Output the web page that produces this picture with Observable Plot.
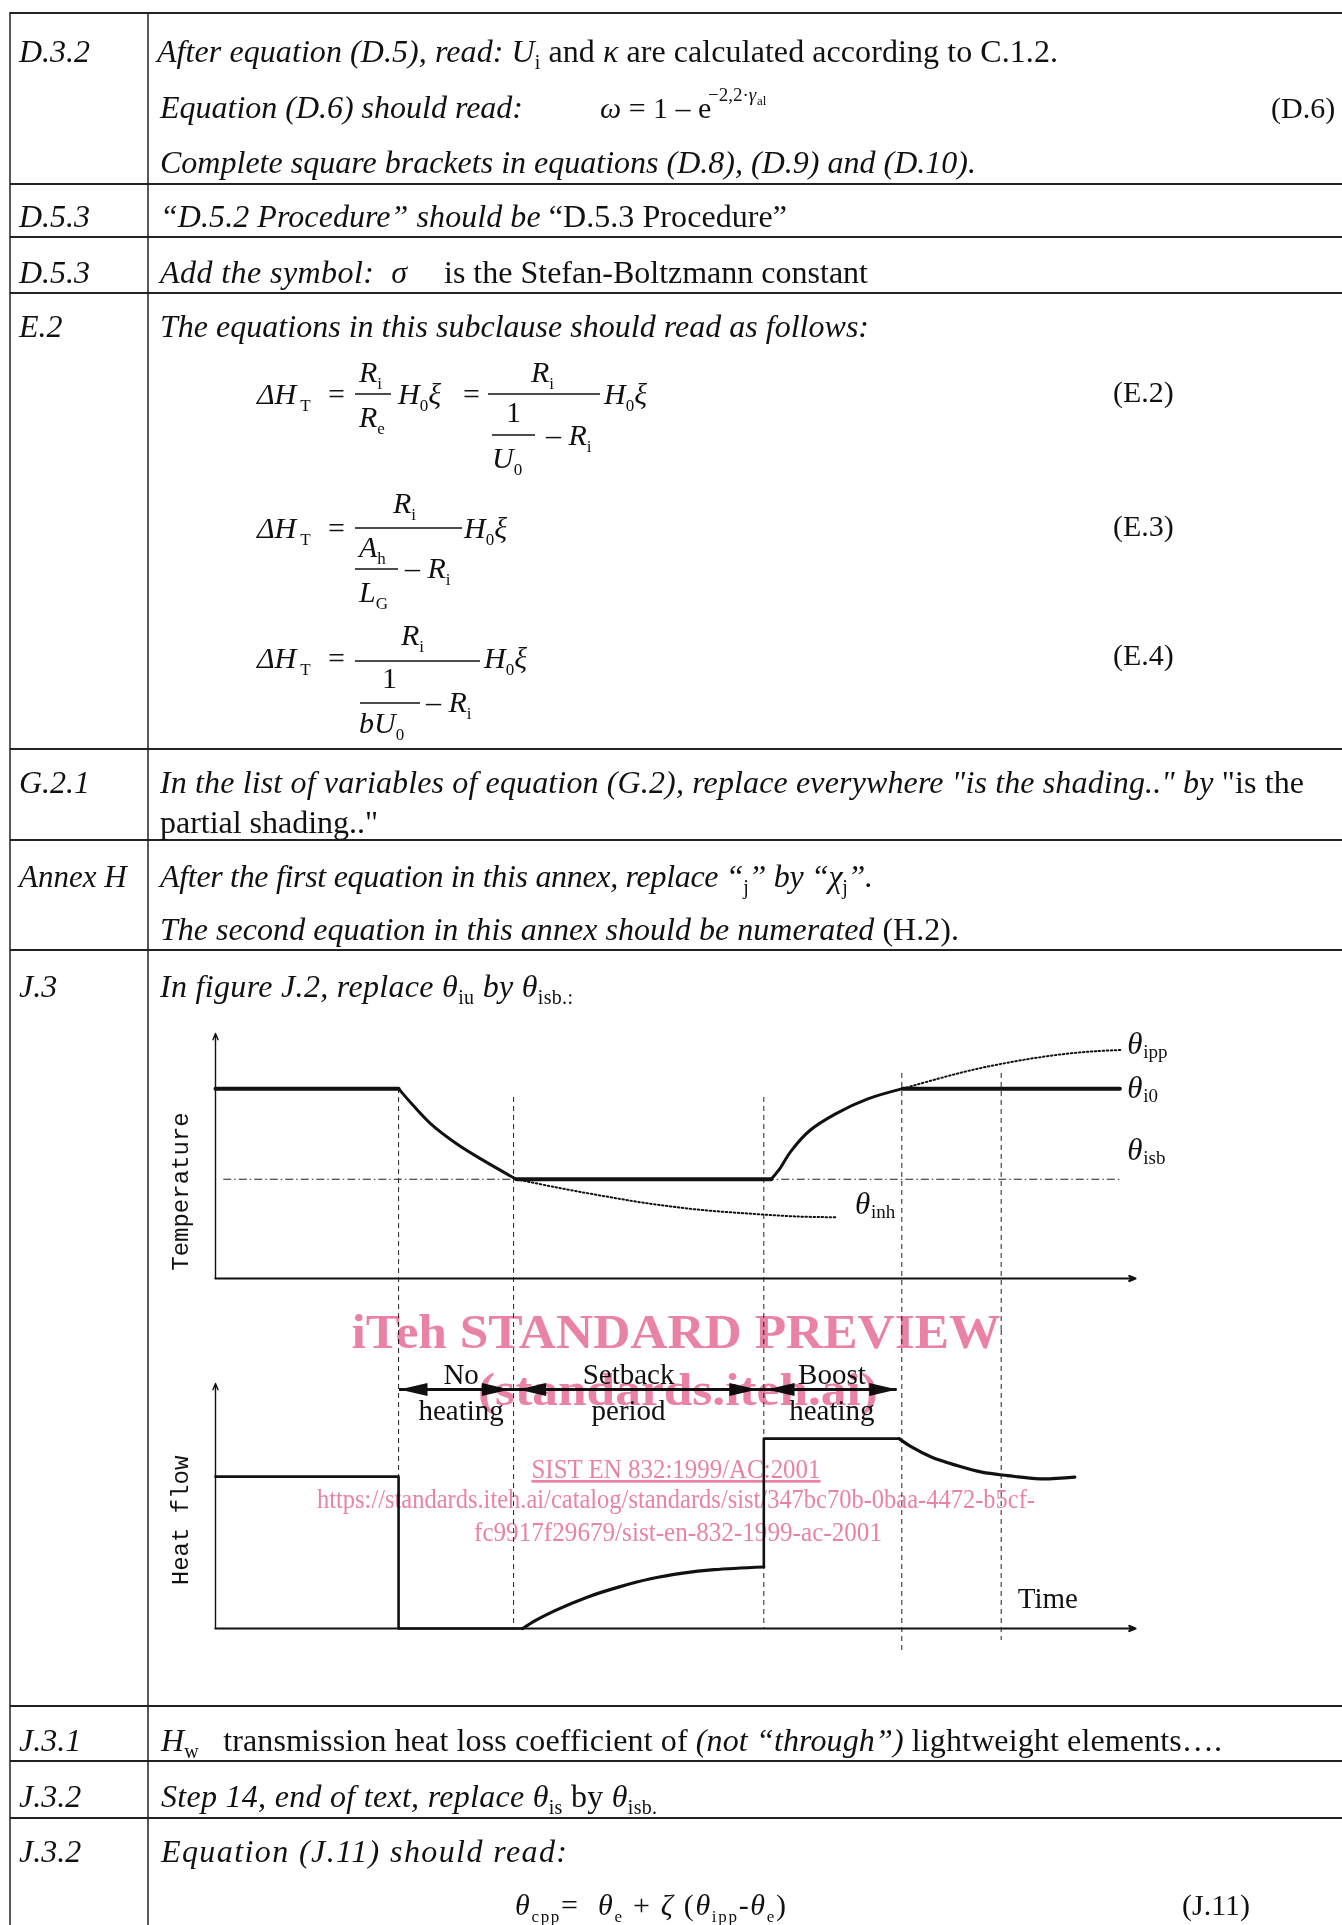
<!DOCTYPE html>
<html><head><meta charset="utf-8">
<script src="https://cdn.jsdelivr.net/npm/d3@7"></script>
<script src="https://cdn.jsdelivr.net/npm/@observablehq/plot@0.6"></script>
<style>
html,body{margin:0;padding:0;background:#fff;}
#page{position:relative;width:1342px;height:1925px;overflow:hidden;background:#fff;}
#doc,#wm{position:absolute;left:0;top:0;}
#wm{mix-blend-mode:multiply;pointer-events:none;}
#temp{position:absolute;left:140px;top:1000px;width:1060px;}
#heat{position:absolute;left:140px;top:1330px;width:1060px;}
text{white-space:pre;}
</style></head><body>
<div id="page">
<svg id="doc" width="1342" height="1925" font-family="Liberation Serif" font-size="32" fill="#111"></svg>
<div id="temp"></div>
<div id="heat"></div>
<svg id="wm" width="1342" height="1925" font-family="Liberation Serif"></svg>
</div>
<script>
// ================= chart data (time units 0..10, level units 0..10) =================
const panels = ["Temperature", "Heat flow"];
const tempFlats = [
  {seg: "before", t: 0, T: 7.75}, {seg: "before", t: 1.99, T: 7.75},
  {seg: "setback", t: 3.27, T: 4.05}, {seg: "setback", t: 6.04, T: 4.05},
  {seg: "after", t: 7.47, T: 7.75}, {seg: "after", t: 9.83, T: 7.75}
];
const tempCurves = [
  {seg: "cool", t: 1.99, T: 7.75}, {seg: "cool", t: 2.14, T: 7.10}, {seg: "cool", t: 2.34, T: 6.31},
  {seg: "cool", t: 2.62, T: 5.50}, {seg: "cool", t: 2.92, T: 4.80}, {seg: "cool", t: 3.27, T: 4.05},
  {seg: "boost", t: 6.04, T: 4.05}, {seg: "boost", t: 6.12, T: 4.41}, {seg: "boost", t: 6.26, T: 5.22},
  {seg: "boost", t: 6.46, T: 6.04}, {seg: "boost", t: 6.74, T: 6.72}, {seg: "boost", t: 7.09, T: 7.33},
  {seg: "boost", t: 7.47, T: 7.75}
];
const tempDotted = [
  {seg: "ipp", t: 7.47, T: 7.75}, {seg: "ipp", t: 7.85, T: 8.15}, {seg: "ipp", t: 8.20, T: 8.49},
  {seg: "ipp", t: 8.54, T: 8.76}, {seg: "ipp", t: 8.89, T: 8.99}, {seg: "ipp", t: 9.24, T: 9.17},
  {seg: "ipp", t: 9.58, T: 9.28}, {seg: "ipp", t: 9.86, T: 9.33},
  {seg: "inh", t: 3.27, T: 4.05}, {seg: "inh", t: 3.69, T: 3.73}, {seg: "inh", t: 4.18, T: 3.39},
  {seg: "inh", t: 4.73, T: 3.05}, {seg: "inh", t: 5.28, T: 2.80}, {seg: "inh", t: 5.84, T: 2.64},
  {seg: "inh", t: 6.33, T: 2.53}, {seg: "inh", t: 6.74, T: 2.50}
];
const setbackRef = [{T: 4.05, t1: 0.09, t2: 9.83}];
const thetaLabels = [
  {t: 9.91, T: 9.18, sub: "ipp"}, {t: 9.91, T: 7.35, sub: "i0"},
  {t: 9.91, T: 4.82, sub: "isb"}, {t: 6.95, T: 2.65, sub: "inh"}
];
const heatSteps = [
  {seg: "a", t: 0, H: 6.2}, {seg: "a", t: 1.99, H: 6.2}, {seg: "a", t: 1.99, H: 0}, {seg: "a", t: 3.34, H: 0},
  {seg: "b", t: 5.96, H: 2.51}, {seg: "b", t: 5.96, H: 7.75}, {seg: "b", t: 7.43, H: 7.75}
];
const heatCurves = [
  {seg: "recovery", t: 3.34, H: 0}, {seg: "recovery", t: 3.48, H: 0.33}, {seg: "recovery", t: 3.69, H: 0.73},
  {seg: "recovery", t: 4.04, H: 1.28}, {seg: "recovery", t: 4.38, H: 1.69}, {seg: "recovery", t: 4.73, H: 2.03},
  {seg: "recovery", t: 5.08, H: 2.26}, {seg: "recovery", t: 5.42, H: 2.40}, {seg: "recovery", t: 5.96, H: 2.51},
  {seg: "decay", t: 7.43, H: 7.75}, {seg: "decay", t: 7.57, H: 7.40}, {seg: "decay", t: 7.78, H: 7.00},
  {seg: "decay", t: 8.06, H: 6.65}, {seg: "decay", t: 8.33, H: 6.38}, {seg: "decay", t: 8.61, H: 6.24},
  {seg: "decay", t: 8.96, H: 6.11}, {seg: "decay", t: 9.34, H: 6.18}
];
const periodSpan = [{H: 9.76, t1: 2.0, t2: 7.41}];
const periodHeads = [
  {t: 2.00, H: 9.76, dir: 180}, {t: 3.20, H: 9.76, dir: 0},
  {t: 3.29, H: 9.76, dir: 180}, {t: 5.89, H: 9.76, dir: 0},
  {t: 5.99, H: 9.76, dir: 180}, {t: 7.41, H: 9.76, dir: 0}
];
const periodLabels = [
  {t: 2.67, line1: "No", line2: "heating", h1: 10.0, h2: 8.49},
  {t: 4.49, line1: "Setback", line2: "period", h1: 10.0, h2: 8.49},
  {t: 6.70, line1: "Boost", line2: "heating", h1: 10.0, h2: 8.49}
];
const timeLabel = [{t: 8.72, H: 0.82, text: "Time"}];
const panelLabels = [{panel: "Temperature", at: 3.55}, {panel: "Heat flow", at: 4.41}];
const dashLines = [
  {t: 1.99, top: 7.75, bottom: 6.2}, {t: 3.24, top: 7.39, bottom: 0},
  {t: 5.96, top: 7.39, bottom: 0}, {t: 7.46, top: 8.37, bottom: -0.98},
  {t: 8.54, top: 8.37, bottom: -0.49}
];
const axesArrows = [{x1: 0, y1: 0, x2: 0, y2: 10, w: 1.4}, {x1: 0, y1: 0, x2: 10, y2: 0, w: 2.2}];

// ================= chart =================
const W = 1060, mL = 75, mR = 65;
const tMargins = {top: 33, bottom: 52}, hMargins = {top: 53, bottom: 50};
const bandPx = 245;
const gapT = -tMargins.bottom / (bandPx / 10);       // bottom edge of the temperature svg, in level units
const gapH = 10 + hMargins.top / (bandPx / 10);      // top edge of the heat-flow svg, in level units
const headSymbol = {draw(ctx) { ctx.moveTo(0, 0); ctx.lineTo(-28, -6.5); ctx.lineTo(-28, 6.5); ctx.closePath(); }};
const common = {
  width: W, marginLeft: mL, marginRight: mR,
  x: {domain: [0, 10], axis: null}, y: {domain: [0, 10], axis: null},
  style: {background: "transparent", fontFamily: "Liberation Serif", overflow: "visible", color: "#111"}
};
const panelLabelMark = p => Plot.text(panelLabels.filter(d => d.panel === p), {
  y: "at", text: "panel", frameAnchor: "left", dx: -35, rotate: -90, textAnchor: "middle",
  fontFamily: "Liberation Mono", fontSize: 24, letterSpacing: 0.4
});

const tempPlot = Plot.plot({
  ...common, height: tMargins.top + bandPx + tMargins.bottom, marginTop: tMargins.top, marginBottom: tMargins.bottom,
  marks: [
    Plot.ruleY(setbackRef, {y: "T", x1: "t1", x2: "t2", stroke: "#222", strokeWidth: 1.1, strokeDasharray: "8,3,1.5,3"}),
    Plot.ruleX(dashLines, {x: "t", y1: "top", y2: gapT, stroke: "#222", strokeWidth: 1, strokeDasharray: "5,4"}),
    Plot.arrow(axesArrows, {x1: "x1", y1: "y1", x2: "x2", y2: "y2", strokeWidth: "w", headLength: 10, headAngle: 45, stroke: "#111"}),
    Plot.line(tempFlats, {x: "t", y: "T", z: "seg", strokeWidth: 4, stroke: "#111"}),
    Plot.line(tempCurves, {x: "t", y: "T", z: "seg", curve: "catmull-rom", strokeWidth: 3, stroke: "#111"}),
    Plot.line(tempDotted, {x: "t", y: "T", z: "seg", curve: "catmull-rom", strokeWidth: 2, strokeDasharray: "1.5,2.5", stroke: "#111"}),
    Plot.text(thetaLabels, {x: "t", y: "T", text: () => "θ", textAnchor: "start", lineAnchor: "bottom", fontStyle: "italic", fontSize: 31}),
    Plot.text(thetaLabels, {x: "t", y: "T", text: "sub", dx: 16, dy: 4, textAnchor: "start", lineAnchor: "bottom", fontSize: 19}),
    panelLabelMark(panels[0])
  ]
});
document.getElementById("temp").append(tempPlot);

const heatPlot = Plot.plot({
  ...common, height: hMargins.top + bandPx + hMargins.bottom, marginTop: hMargins.top, marginBottom: hMargins.bottom,
  marks: [
    Plot.ruleX(dashLines, {x: "t", y1: gapH, y2: "bottom", stroke: "#222", strokeWidth: 1, strokeDasharray: "5,4"}),
    Plot.arrow(axesArrows, {x1: "x1", y1: "y1", x2: "x2", y2: "y2", strokeWidth: "w", headLength: 10, headAngle: 45, stroke: "#111"}),
    Plot.line(heatSteps, {x: "t", y: "H", z: "seg", strokeWidth: 2.6, stroke: "#111"}),
    Plot.line(heatCurves, {x: "t", y: "H", z: "seg", curve: "catmull-rom", strokeWidth: 3.2, stroke: "#111"}),
    Plot.ruleY(periodSpan, {y: "H", x1: "t1", x2: "t2", strokeWidth: 3, stroke: "#111"}),
    Plot.dot(periodHeads, {x: "t", y: "H", rotate: "dir", symbol: headSymbol, fill: "#111", stroke: "none"}),
    Plot.text(periodLabels, {x: "t", y: "h1", text: "line1", lineAnchor: "bottom", fontSize: 29, letterSpacing: 0.5}),
    Plot.text(periodLabels, {x: "t", y: "h2", text: "line2", lineAnchor: "bottom", fontSize: 29, letterSpacing: 0.5}),
    Plot.text(timeLabel, {x: "t", y: "H", text: "text", textAnchor: "start", lineAnchor: "bottom", fontSize: 29}),
    panelLabelMark(panels[1])
  ]
});
document.getElementById("heat").append(heatPlot);

// ================= document text =================
const esc = s => s.replace(/&/g, "&amp;").replace(/</g, "&lt;");
function tx(x, y, segs, o = {}) {
  const size = o.size || 32, sub = o.sub || 20;
  let cur = 0, inner = "";
  for (const [t, f = ""] of segs) {
    const isSub = f.includes("b"), isSup = f.includes("p");
    const target = isSub ? Math.round(size * 0.22) : isSup ? -Math.round(size * 0.4) : 0;
    const dy = target - cur; cur = target;
    inner += `<tspan dy="${dy}" font-size="${isSub || isSup ? sub : size}" font-style="${f.includes("i") ? "italic" : "normal"}">${esc(t)}</tspan>`;
  }
  const extra = (o.w ? ` textLength="${o.w}"` : "") + (o.anchor ? ` text-anchor="${o.anchor}"` : "");
  return `<text x="${x}" y="${y}"${extra}>${inner}</text>`;
}
const EQ = {size: 30, sub: 17};
const eq = (x, y, segs, o = {}) => tx(x, y, segs, {...EQ, ...o});
const bar = (x1, x2, y) => `<line x1="${x1}" x2="${x2}" y1="${y}" y2="${y}" stroke="#111" stroke-width="1.3"/>`;

const rowRules = [13, 184, 237, 293, 749, 840, 950, 1706, 1761, 1818];
const rowLabels = [
  ["D.3.2", 62], ["D.5.3", 227], ["D.5.3", 283], ["E.2", 337], ["G.2.1", 793],
  ["Annex H", 887], ["J.3", 997], ["J.3.1", 1751], ["J.3.2", 1807], ["J.3.2", 1862]
];
let s = "";
for (const y of rowRules) s += `<line x1="10" x2="1342" y1="${y}" y2="${y}" stroke="#222" stroke-width="2"/>`;
s += `<line x1="10" x2="10" y1="12" y2="1925" stroke="#222" stroke-width="1.5"/>`;
s += `<line x1="148" x2="148" y1="12" y2="1925" stroke="#222" stroke-width="1.5"/>`;
for (const [t, y] of rowLabels) s += tx(19, y, [[t, "i"]], {size: t === "Annex H" ? 31 : 32});

// D.3.2
s += tx(157, 62, [["After equation (D.5), read: ", "i"], ["U", "i"], ["i", "b"], [" and ", ""], ["κ", "i"], [" are calculated according to C.1.2.", ""]], {w: 901});
s += tx(160, 118, [["Equation (D.6) should read:", "i"]], {w: 363});
s += eq(600, 118, [["ω", "i"], [" = 1 – e", ""]]);
s += tx(708, 101, [["−2,2·", ""], ["γ", "i"]], {size: 19});
s += tx(757, 105, [["al", ""]], {size: 13});
s += eq(1271, 118, [["(D.6)", ""]]);
s += tx(160, 173, [["Complete square brackets in equations (D.8), (D.9) and (D.10).", "i"]], {w: 816});
// D.5.3
s += tx(160, 227, [["“D.5.2 Procedure” should be ", "i"], ["“D.5.3 Procedure”", ""]], {w: 627});
s += tx(160, 283, [["Add the symbol:  σ", "i"]], {w: 247});
s += tx(444, 283, [["is the Stefan-Boltzmann constant", ""]], {w: 424});
// E.2
s += tx(160, 337, [["The equations in this subclause should read as follows:", "i"]], {w: 709});
// (E.2)
s += eq(257, 404, [["ΔH", "i"], [" T", "b"]]);
s += eq(328, 404, [["=", ""]]);
s += eq(359, 382, [["R", "i"], ["i", "b"]]);
s += bar(355, 391, 394);
s += eq(359, 427, [["R", "i"], ["e", "b"]]);
s += eq(398, 404, [["H", "i"], ["0", "b"], ["ξ", "i"]]);
s += eq(463, 404, [["=", ""]]);
s += bar(488, 600, 394);
s += eq(531, 382, [["R", "i"], ["i", "b"]]);
s += eq(506, 422, [["1", ""]]);
s += bar(492, 535, 435);
s += eq(546, 445, [["– ", ""], ["R", "i"], ["i", "b"]]);
s += eq(492, 468, [["U", "i"], ["0", "b"]]);
s += eq(604, 404, [["H", "i"], ["0", "b"], ["ξ", "i"]]);
s += eq(1113, 402, [["(E.2)", ""]]);
// (E.3)
s += eq(257, 538, [["ΔH", "i"], [" T", "b"]]);
s += eq(328, 538, [["=", ""]]);
s += bar(355, 462, 528);
s += eq(393, 513, [["R", "i"], ["i", "b"]]);
s += eq(359, 557, [["A", "i"], ["h", "b"]]);
s += bar(355, 398, 569);
s += eq(405, 578, [["– ", ""], ["R", "i"], ["i", "b"]]);
s += eq(359, 602, [["L", "i"], ["G", "b"]]);
s += eq(464, 538, [["H", "i"], ["0", "b"], ["ξ", "i"]]);
s += eq(1113, 536, [["(E.3)", ""]]);
// (E.4)
s += eq(257, 668, [["ΔH", "i"], [" T", "b"]]);
s += eq(328, 668, [["=", ""]]);
s += bar(355, 480, 661);
s += eq(401, 645, [["R", "i"], ["i", "b"]]);
s += eq(382, 688, [["1", ""]]);
s += bar(360, 420, 703);
s += eq(426, 712, [["– ", ""], ["R", "i"], ["i", "b"]]);
s += eq(359, 733, [["bU", "i"], ["0", "b"]]);
s += eq(484, 668, [["H", "i"], ["0", "b"], ["ξ", "i"]]);
s += eq(1113, 665, [["(E.4)", ""]]);
// G.2.1
s += tx(160, 793, [["In the list of variables of equation (G.2), replace everywhere \"is the shading..\" by ", "i"], ["\"is the", ""]], {w: 1144});
s += tx(160, 833, [["partial shading..\"", ""]], {w: 218});
// Annex H
s += tx(160, 887, [["After the first equation in this annex, replace “", "i"], ["j", "b"], ["” by “", "i"], ["χ", "i"], ["j", "b"], ["”.", "i"]], {w: 713});
s += tx(160, 940, [["The second equation in this annex should be numerated ", "i"], ["(H.2).", ""]], {w: 799});
// J.3
s += tx(160, 997, [["In figure J.2, replace ", "i"], ["θ", "i"], ["iu", "b"], [" by ", "i"], ["θ", "i"], ["isb.:", "b"]], {w: 413});
// J.3.1 / J.3.2
s += tx(161, 1751, [["H", "i"], ["w", "b"], ["   transmission heat loss coefficient of ", ""], ["(not “through”)", "i"], [" lightweight elements….", ""]], {w: 1061});
s += tx(161, 1807, [["Step 14, end of text, replace ", "i"], ["θ", "i"], ["is", "b"], [" by ", ""], ["θ", "i"], ["isb.", "b"]], {w: 496});
s += tx(161, 1862, [["Equation (J.11) should read:", "i"]], {w: 406});
s += eq(515, 1915, [["θ", "i"], ["cpp", "b"], ["=  ", ""], ["θ", "i"], ["e", "b"], [" + ", ""], ["ζ", "i"], [" (", ""], ["θ", "i"], ["ipp", "b"], ["-", ""], ["θ", "i"], ["e", "b"], [")", ""]], {w: 271});
s += eq(1182, 1915, [["(J.11)", ""]]);
document.getElementById("doc").innerHTML = s;

// ================= watermark =================
const pink = "#ea82a5";
const wm = [
  {t: "iTeh STANDARD PREVIEW", y: 1348, size: 48, bold: true, w: 649, x: 676},
  {t: "(standards.iteh.ai)", y: 1405, size: 46, bold: true, w: 400, x: 678},
  {t: "SIST EN 832:1999/AC:2001", y: 1478, size: 27, w: 289, x: 676, u: true},
  {t: "https://standards.iteh.ai/catalog/standards/sist/347bc70b-0baa-4472-b5cf-", y: 1508, size: 27, w: 718, x: 676},
  {t: "fc9917f29679/sist-en-832-1999-ac-2001", y: 1541, size: 27, w: 408, x: 678}
];
document.getElementById("wm").innerHTML = wm.map(d =>
  `<text x="${d.x}" y="${d.y}" text-anchor="middle" font-size="${d.size}" font-weight="${d.bold ? "bold" : "normal"}" fill="${pink}" textLength="${d.w}" lengthAdjust="spacingAndGlyphs"${d.u ? ' text-decoration="underline"' : ""}>${esc(d.t)}</text>`
).join("");
</script>
</body></html>
